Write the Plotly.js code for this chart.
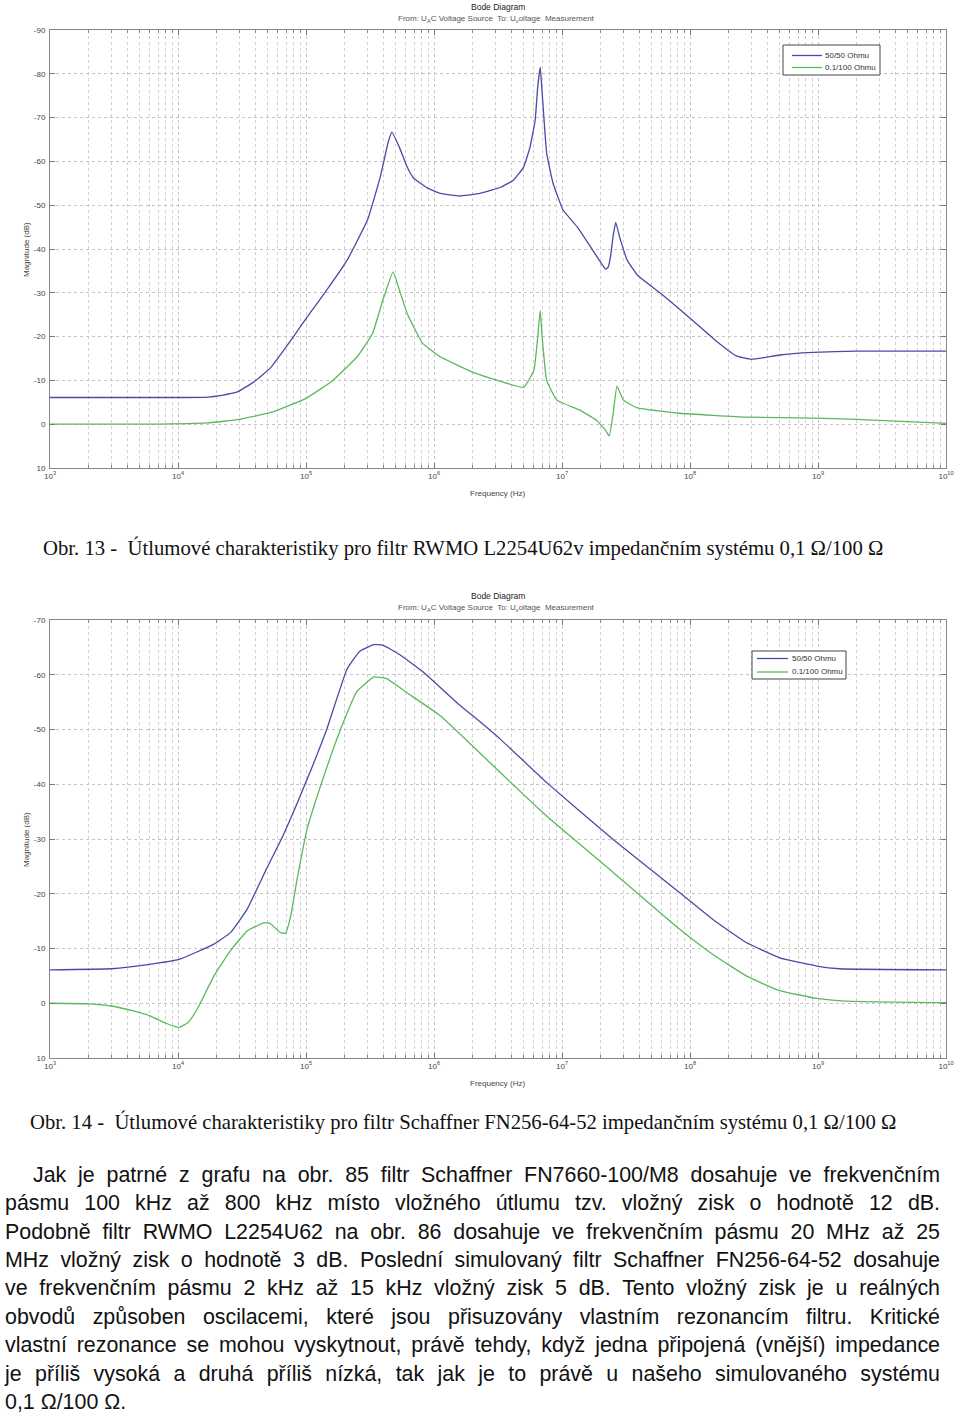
<!DOCTYPE html>
<html>
<head>
<meta charset="utf-8">
<script src="https://cdn.plot.ly/plotly-3.0.1.min.js"></script>
<style>
  html, body { margin:0; padding:0; background:#fff; }
  #page { position:relative; width:960px; height:1415px; overflow:hidden; }
  #plot { position:absolute; left:0; top:0; width:960px; height:1415px; }
  .cap { position:absolute; font-family:"Liberation Serif","Times New Roman",serif; color:#111; white-space:nowrap; line-height:1; }
  .pl { position:absolute; font-family:"Liberation Sans",Arial,sans-serif; font-size:21.4px; color:#111; white-space:nowrap; line-height:1; text-align:justify; text-align-last:justify; }
</style>
</head>
<body>
<div id="page">
  <div id="plot"></div>
  <div class="cap" id="cap1" style="left:43px; top:538px;">Obr. 13 -&nbsp; Útlumové charakteristiky pro filtr RWMO L2254U62v impedančním systému 0,1 Ω/100 Ω</div>
  <div class="cap" id="cap2" style="left:30px; top:1112px;">Obr. 14 -&nbsp; Útlumové charakteristiky pro filtr Schaffner FN256-64-52 impedančním systému 0,1 Ω/100 Ω</div>
  <div id="para"></div>
</div>
<script>
// ---------- DATA ----------
// Obr. 13 – RWMO L2254U62
const f13_blue_hz = [1000, 10000, 17000, 22000, 28800, 38900, 52500, 79400, 107000, 145000, 209000, 302000, 380000, 437000, 468000, 537000, 617000, 692000, 891000, 1.12e6, 1.58e6, 2.29e6, 3.31e6, 4.17e6, 5.01e6, 5.62e6, 6.17e6, 6.46e6, 6.76e6, 7.0e6, 7.59e6, 8.51e6, 1.02e7, 1.32e7, 1.74e7, 2.0e7, 2.19e7, 2.29e7, 2.40e7, 2.51e7, 2.63e7, 2.82e7, 3.24e7, 3.89e7, 5.89e7, 1.05e8, 1.6e8, 2.3e8, 3.02e8, 4.0e8, 5.01e8, 9.12e8, 2.0e9, 1e10];
const f13_blue_db = [6.1, 6.1, 6.2, 6.6, 7.3, 9.6, 12.8, 19.9, 25.3, 30.6, 37.4, 46.6, 56.4, 64.2, 66.7, 63.2, 58.7, 56.2, 53.9, 52.7, 52.1, 52.7, 54.1, 55.7, 58.7, 63.2, 69.4, 77.0, 81.5, 75.6, 61.9, 55.0, 48.9, 45.0, 39.7, 37.0, 35.4, 35.8, 38.5, 43.0, 46.1, 42.7, 37.4, 34.0, 29.9, 23.7, 19.0, 15.6, 14.8, 15.3, 15.8, 16.4, 16.7, 16.7];
const f13_green_hz = [1000, 6000, 17000, 30200, 55000, 1e5, 162000, 251000, 331000, 398000, 479000, 537000, 617000, 813000, 1.12e6, 2.0e6, 3.31e6, 5.01e6, 6.03e6, 6.46e6, 6.76e6, 7.0e6, 7.59e6, 9.12e6, 1.38e7, 1.86e7, 2.19e7, 2.34e7, 2.51e7, 2.69e7, 3.02e7, 3.89e7, 8.32e7, 2.82e8, 9.12e8, 2.0e9, 1e10];
const f13_green_db = [0, 0, 0.3, 1.1, 2.8, 5.9, 10.0, 15.4, 20.7, 28.3, 34.8, 30.6, 25.3, 18.5, 15.4, 11.9, 9.8, 8.4, 12.3, 19.9, 26.0, 19.9, 10.0, 5.5, 3.2, 0.9, -1.4, -2.7, 2.5, 8.7, 5.5, 3.7, 2.5, 1.6, 1.4, 1.1, 0.2];

// Obr. 14 – Schaffner FN256-64-52
const f14_blue_hz = [1000, 3020, 6030, 10200, 19100, 25700, 34700, 49000, 66100, 102000, 145000, 209000, 263000, 339000, 398000, 537000, 832000, 1.51e6, 2.29e6, 3.31e6, 7.59e6, 2.51e7, 8.32e7, 1.51e8, 2.75e8, 5.01e8, 9.77e8, 1.48e9, 1e10];
const f14_blue_db = [6.1, 6.3, 7.1, 8.0, 10.8, 12.9, 17.2, 24.5, 30.6, 40.9, 50.0, 61.0, 64.3, 65.5, 65.4, 63.7, 60.4, 54.9, 51.4, 48.2, 40.3, 29.9, 20.2, 15.3, 11.1, 8.3, 6.8, 6.3, 6.1];
const f14_green_hz = [1000, 2040, 3020, 4470, 6030, 8130, 10200, 12000, 14100, 19100, 25700, 34700, 46800, 52500, 63100, 69200, 75900, 85100, 102000, 138000, 186000, 251000, 339000, 427000, 617000, 1.12e6, 2.04e6, 3.31e6, 7.59e6, 2.51e7, 8.32e7, 1.51e8, 2.75e8, 5.01e8, 9.77e8, 1.66e9, 1e10];
const f14_green_db = [0, -0.1, -0.5, -1.4, -2.3, -3.7, -4.4, -3.5, -1.1, 5.0, 9.6, 13.2, 14.7, 14.6, 12.9, 12.8, 15.9, 22.6, 31.8, 41.5, 50.0, 57.0, 59.6, 59.3, 56.7, 52.5, 46.8, 42.1, 34.2, 23.9, 13.5, 8.9, 5.0, 2.3, 0.9, 0.4, 0.1];

const seriesNames = ["50/50 Ohmu", "0.1/100 Ohmu"];
const xTickVals = [1e3, 1e4, 1e5, 1e6, 1e7, 1e8, 1e9, 1e10];
const xTickText = ["10<sup>3</sup>", "10<sup>4</sup>", "10<sup>5</sup>", "10<sup>6</sup>", "10<sup>7</sup>", "10<sup>8</sup>", "10<sup>9</sup>", "10<sup>10</sup>"];
const y13TickVals = [-10, 0, 10, 20, 30, 40, 50, 60, 70, 80, 90];
const y13TickText = ["10", "0", "-10", "-20", "-30", "-40", "-50", "-60", "-70", "-80", "-90"];
const y14TickVals = [-10, 0, 10, 20, 30, 40, 50, 60, 70];
const y14TickText = ["10", "0", "-10", "-20", "-30", "-40", "-50", "-60", "-70"];

const paraLines = [
  "Jak je patrné z grafu na obr. 85 filtr Schaffner FN7660-100/M8 dosahuje ve frekvenčním",
  "pásmu 100 kHz až 800 kHz místo vložného útlumu tzv. vložný zisk o hodnotě 12 dB.",
  "Podobně filtr RWMO L2254U62 na obr. 86 dosahuje ve frekvenčním pásmu 20 MHz až 25",
  "MHz vložný zisk o hodnotě 3 dB. Poslední simulovaný filtr Schaffner FN256-64-52 dosahuje",
  "ve frekvenčním pásmu 2 kHz až 15 kHz vložný zisk 5 dB. Tento vložný zisk je u reálných",
  "obvodů způsoben oscilacemi, které jsou přisuzovány vlastním rezonancím filtru. Kritické",
  "vlastní rezonance se mohou vyskytnout, právě tehdy, když jedna připojená (vnější) impedance",
  "je příliš vysoká a druhá příliš nízká, tak jak je to právě u našeho simulovaného systému",
  "0,1 Ω/100 Ω."
];

// ---------- STYLE ----------
const W = 960, H = 1415;
const BLUE = '#4a4aa6', GREEN = '#5cb85c';
const COLORS = [BLUE, GREEN];
const TXT = '#444';
const FONT = 'Liberation Sans, Arial, sans-serif';
const px2x = v => v / W;
const px2y = v => 1 - v / H;

const minorVals = [];
for (let e = 3; e < 10; e++) for (let m = 2; m <= 9; m++) minorVals.push(m * Math.pow(10, e));

function xaxisCfg(anchor) {
  return {
    type: 'log', range: [3, 10], domain: [px2x(50), px2x(946)], anchor: anchor,
    tickmode: 'array', tickvals: xTickVals, ticktext: xTickText,
    ticks: 'inside', ticklen: 5, tickcolor: '#777', tickwidth: 1,
    showline: true, linecolor: '#888', linewidth: 1, mirror: 'ticks',
    showgrid: true, gridcolor: '#c4c4c4', griddash: 'dot', gridwidth: 1,
    minor: { tickmode: 'array', tickvals: minorVals, ticks: 'inside', ticklen: 3, tickcolor: '#888', showgrid: true, gridcolor: '#cfcfcf', griddash: 'dot', gridwidth: 1 },
    tickfont: { family: FONT, size: 8, color: TXT }, zeroline: false, fixedrange: true
  };
}
function yaxisCfg(anchor, range, top, bottom, tv, tt) {
  return {
    range: range, domain: [px2y(bottom), px2y(top)], anchor: anchor,
    tickmode: 'array', tickvals: tv, ticktext: tt,
    ticks: 'inside', ticklen: 5, tickcolor: '#777',
    showline: true, linecolor: '#888', linewidth: 1, mirror: 'ticks',
    showgrid: true, gridcolor: '#c4c4c4', griddash: 'dot', gridwidth: 1,
    tickfont: { family: FONT, size: 8, color: TXT }, zeroline: false, fixedrange: true, ticklabelstandoff: 2
  };
}

function tr(x, y, i, xa, ya) {
  return { x: x, y: y, name: seriesNames[i], type: 'scatter', mode: 'lines',
    line: { color: COLORS[i], width: 1.3, shape: 'spline', smoothing: 0.35 }, xaxis: xa, yaxis: ya, showlegend: false };
}
const traces = [
  tr(f13_blue_hz, f13_blue_db, 0, 'x', 'y'),
  tr(f13_green_hz, f13_green_db, 1, 'x', 'y'),
  tr(f14_blue_hz, f14_blue_db, 0, 'x2', 'y2'),
  tr(f14_green_hz, f14_green_db, 1, 'x2', 'y2')
];

function ann(text, xpx, ypx, size, color, angle, xanchor) {
  return { text: text, x: px2x(xpx), y: px2y(ypx), xref: 'paper', yref: 'paper', xanchor: xanchor || 'center', yanchor: 'middle', showarrow: false, textangle: angle || 0, font: { family: FONT, size: size, color: color } };
}
const subt = "From: U<sub>A</sub>C Voltage Source  To: U<sub>v</sub>oltage  Measurement";
const annotations = [
  ann("Bode Diagram", 498, 7, 8.5, '#222'),
  ann(subt, 496, 19, 8, '#555'),
  ann("Magnitude (dB)", 26, 250, 8, '#444', -90),
  ann("Frequency (Hz)", 497, 493, 8, '#444'),
  ann("Bode Diagram", 498, 596, 8.5, '#222'),
  ann(subt, 496, 608, 8, '#555'),
  ann("Magnitude (dB)", 26, 840, 8, '#444', -90),
  ann("Frequency (Hz)", 497, 1083, 8, '#444')
];

// Legend boxes (MATLAB style), drawn in paper coordinates
const shapes = [];
function legendBox(x0, y0, x1, y1, lx0, lx1, ly, tx) {
  shapes.push({ type: 'rect', xref: 'paper', yref: 'paper', x0: px2x(x0), x1: px2x(x1), y0: px2y(y0), y1: px2y(y1), line: { color: '#444', width: 1 }, fillcolor: '#fff', layer: 'above' });
  seriesNames.forEach((nm, i) => {
    shapes.push({ type: 'line', xref: 'paper', yref: 'paper', x0: px2x(lx0), x1: px2x(lx1), y0: px2y(ly[i]), y1: px2y(ly[i]), line: { color: COLORS[i], width: 1.3 }, layer: 'above' });
    annotations.push(ann(nm, tx, ly[i], 8, '#333', 0, 'left'));
  });
}
legendBox(783, 45, 880, 75, 792, 822, [55.5, 67.5], 823);
legendBox(752, 651, 846, 679, 757, 788, [658.5, 672], 790);

const layout = {
  width: W, height: H, margin: { l: 0, r: 0, t: 0, b: 0 },
  paper_bgcolor: '#fff', plot_bgcolor: '#fff', showlegend: false,
  xaxis: xaxisCfg('y'), yaxis: yaxisCfg('x', [-10, 90], 30, 468, y13TickVals, y13TickText),
  xaxis2: xaxisCfg('y2'), yaxis2: yaxisCfg('x2', [-10, 70], 620, 1058, y14TickVals, y14TickText),
  annotations: annotations, shapes: shapes
};

Plotly.newPlot('plot', traces, layout, { staticPlot: true, displayModeBar: false });

// ---------- TEXT ----------
function fitWidth(el, target, startSize) {
  el.style.fontSize = startSize + 'px';
  const w = el.getBoundingClientRect().width;
  el.style.fontSize = (startSize * target / w) + 'px';
}
fitWidth(document.getElementById('cap1'), 841, 18);
fitWidth(document.getElementById('cap2'), 867, 18);

const para = document.getElementById('para');
const lineTops = [1165, 1193, 1222, 1250, 1278, 1307, 1335, 1364, 1392];
paraLines.forEach((t, i) => {
  const d = document.createElement('div');
  d.className = 'pl';
  d.textContent = t;
  const left = i === 0 ? 33 : 5;
  d.style.left = left + 'px';
  d.style.top = lineTops[i] + 'px';
  if (i < paraLines.length - 1) { d.style.width = (940 - left) + 'px'; d.style.whiteSpace = 'normal'; }
  para.appendChild(d);
});
</script>
</body>
</html>
